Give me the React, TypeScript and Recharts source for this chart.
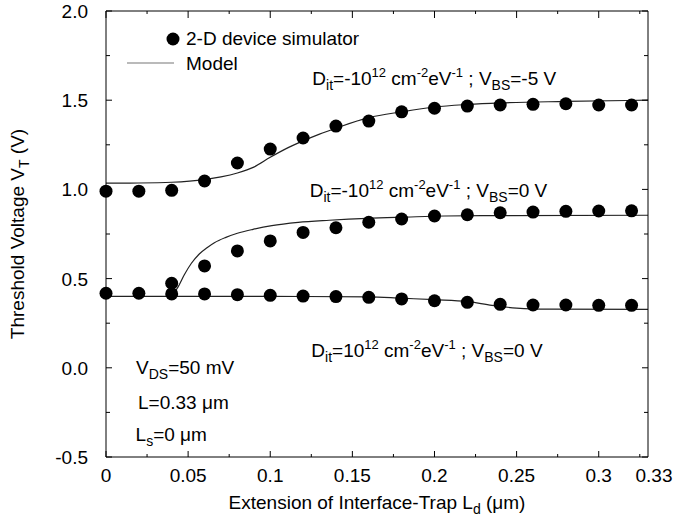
import React from 'react';
import { ComposedChart, XAxis, YAxis, Line, Scatter, ReferenceDot, Legend } from 'recharts';

// ---- data ----
const simX = [0, 0.02, 0.04, 0.06, 0.08, 0.1, 0.12, 0.14, 0.16, 0.18, 0.2, 0.22, 0.24, 0.26, 0.28, 0.3, 0.32];
const simNegVbs5 = [0.99, 0.99, 0.995, 1.047, 1.148, 1.226, 1.288, 1.355, 1.383, 1.435, 1.455, 1.467, 1.473, 1.477, 1.48, 1.473, 1.473];
const simNegX = [0.04, 0.06, 0.08, 0.1, 0.12, 0.14, 0.16, 0.18, 0.2, 0.22, 0.24, 0.26, 0.28, 0.3, 0.32];
const simNegVbs0 = [0.474, 0.571, 0.655, 0.711, 0.759, 0.785, 0.816, 0.834, 0.851, 0.858, 0.869, 0.873, 0.877, 0.879, 0.88];
const simPosVbs0 = [0.418, 0.418, 0.414, 0.414, 0.41, 0.406, 0.402, 0.399, 0.395, 0.386, 0.376, 0.367, 0.356, 0.352, 0.352, 0.35, 0.35];

const modelNeg5X = [0, 0.02, 0.04, 0.06, 0.07, 0.08, 0.09, 0.1, 0.11, 0.12, 0.13, 0.14, 0.16, 0.18, 0.2, 0.22, 0.24, 0.28, 0.33];
const modelNeg5Y = [1.035, 1.036, 1.04, 1.055, 1.07, 1.092, 1.125, 1.18, 1.23, 1.272, 1.31, 1.343, 1.402, 1.435, 1.462, 1.476, 1.485, 1.493, 1.5];
const modelNeg0X = [0.04, 0.044, 0.0476, 0.052, 0.0568, 0.0615, 0.066, 0.073, 0.08, 0.0895, 0.101, 0.117, 0.136, 0.159, 0.183, 0.206, 0.229, 0.33];
const modelNeg0Y = [0.4, 0.455, 0.52, 0.586, 0.638, 0.673, 0.701, 0.731, 0.754, 0.776, 0.797, 0.815, 0.827, 0.838, 0.845, 0.851, 0.853, 0.855];
const modelPos0X = [0, 0.05, 0.1, 0.16, 0.18, 0.2, 0.22, 0.235, 0.25, 0.27, 0.33];
const modelPos0Y = [0.4, 0.4, 0.4, 0.398, 0.39, 0.382, 0.372, 0.35, 0.335, 0.329, 0.327];

const X_TICKS = [0, 0.025, 0.05, 0.075, 0.1, 0.125, 0.15, 0.175, 0.2, 0.225, 0.25, 0.275, 0.3, 0.325, 0.33];
const X_LABELS = [0, 0.05, 0.1, 0.15, 0.2, 0.25, 0.3, 0.33];
const X_LABEL_TEXT = ['0', '0.05', '0.1', '0.15', '0.2', '0.25', '0.3', '0.33'];
const Y_TICKS = [-0.5, -0.25, 0, 0.25, 0.5, 0.75, 1, 1.25, 1.5, 1.75, 2];
const Y_LABELS = [-0.5, 0, 0.5, 1, 1.5, 2];
const Y_LABEL_TEXT = ['-0.5', '0.0', '0.5', '1.0', '1.5', '2.0'];

const toPts = (xs: number[], ys: number[]) => xs.map((x, i) => ({ x, y: ys[i] }));

const FONT = '"Liberation Sans", Arial, Helvetica, sans-serif';
const FS = 19;
const near = (a: number, b: number) => Math.abs(a - b) < 1e-9;

const XBottomTick = (props: any) => {
  const { x, y, payload } = props;
  const v = payload.value;
  const li = X_LABELS.findIndex((l) => near(l, v));
  const isEdge = near(v, 0.33);
  const major = Math.abs(v / 0.05 - Math.round(v / 0.05)) < 1e-6;
  return (
    <g>
      {!isEdge && <line x1={x} x2={x} y1={y} y2={y - (major ? 6 : 3)} stroke="#000" />}
      {li >= 0 && (
        <text x={x} y={y + 25} dx={isEdge ? 6 : 0} textAnchor="middle" fontFamily={FONT} fontSize={FS} fill="#000">
          {X_LABEL_TEXT[li]}
        </text>
      )}
    </g>
  );
};

const XTopTick = (props: any) => {
  const { x, y, payload } = props;
  const v = payload.value;
  if (near(v, 0.33)) return <g />;
  const major = Math.abs(v / 0.05 - Math.round(v / 0.05)) < 1e-6;
  return <line x1={x} x2={x} y1={y} y2={y + (major ? 7 : 3)} stroke="#000" />;
};

const YLeftTick = (props: any) => {
  const { x, y, payload } = props;
  const v = payload.value;
  const li = Y_LABELS.findIndex((l) => near(l, v));
  return (
    <g>
      <line x1={x} x2={x + (li >= 0 ? 6 : 4)} y1={y} y2={y} stroke="#000" />
      {li >= 0 && (
        <text x={x - 18} y={y} dy={7} textAnchor="end" fontFamily={FONT} fontSize={FS} fill="#000">
          {Y_LABEL_TEXT[li]}
        </text>
      )}
    </g>
  );
};

const YRightTick = (props: any) => {
  const { x, y, payload } = props;
  const v = payload.value;
  const major = Y_LABELS.some((l) => near(l, v));
  return <line x1={x} x2={x - (major ? 6 : 4)} y1={y} y2={y} stroke="#000" />;
};

const YTitle = () => (
  <text transform="translate(24,234) rotate(-90)" textAnchor="middle" fontFamily={FONT} fontSize={FS} fill="#000">
    Threshold Voltage V<tspan dy={5} fontSize={14}>T</tspan>
    <tspan dy={-5}> (V)</tspan>
  </text>
);

const XTitle = () => (
  <text x={377} y={509} textAnchor="middle" fontFamily={FONT} fontSize={FS} fill="#000">
    Extension of Interface-Trap L<tspan dy={5} fontSize={14}>d</tspan>
    <tspan dy={-5}> (μm)</tspan>
  </text>
);

const ditLabel = (sign: string, vbs: string) => (props: any) => {
  const vb = props.viewBox || {};
  return (
    <text x={vb.x} y={vb.y} fontFamily={FONT} fontSize={FS} fill="#000">
      D<tspan dy={5} fontSize={14}>it</tspan>
      <tspan dy={-5}>={sign}10</tspan>
      <tspan dy={-8} fontSize={13}>12</tspan>
      <tspan dy={8}> cm</tspan>
      <tspan dy={-8} fontSize={13}>-2</tspan>
      <tspan dy={8}>eV</tspan>
      <tspan dy={-8} fontSize={13}>-1</tspan>
      <tspan dy={8}> ; V</tspan>
      <tspan dy={5} fontSize={14}>BS</tspan>
      <tspan dy={-5}>={vbs} V</tspan>
    </text>
  );
};

const subLabel = (main: string, sub: string, rest: string) => (props: any) => {
  const vb = props.viewBox || {};
  return (
    <text x={vb.x} y={vb.y} fontFamily={FONT} fontSize={FS} fill="#000">
      {main}
      {sub && <tspan dy={5} fontSize={14}>{sub}</tspan>}
      <tspan dy={sub ? -5 : 0}>{rest}</tspan>
    </text>
  );
};

const Dot = (p: any) => <circle cx={p.cx} cy={p.cy} r={6.5} fill="#000" />;

const renderLegend = () => (
  <svg width={260} height={60} style={{ display: 'block' }}>
    <circle cx={53} cy={17} r={6.5} fill="#000" />
    <text x={66} y={23} fontFamily={FONT} fontSize={FS} fill="#000">2-D device simulator</text>
    <line x1={7} x2={54} y1={41} y2={41} stroke="#777" strokeWidth={1.2} />
    <text x={66} y={48} fontFamily={FONT} fontSize={FS} fill="#000">Model</text>
  </svg>
);

const annotations = [
  { x: 0.1256, y: 1.585, content: ditLabel('-', '-5') },
  { x: 0.124, y: 0.957, content: ditLabel('-', '0') },
  { x: 0.125, y: 0.061, content: ditLabel('', '0') },
  { x: 0.0183, y: -0.035, content: subLabel('V', 'DS', '=50 mV') },
  { x: 0.0195, y: -0.231, content: subLabel('L=0.33 μm', '', '') },
  { x: 0.018, y: -0.41, content: subLabel('L', 's', '=0 μm') },
];

export default function App() {
  return (
    <div style={{ position: 'absolute', left: 0, top: 0, background: '#fff' }}>
      <ComposedChart width={699} height={516} margin={{ top: 10, right: 50, bottom: 0, left: 0 }}>
        <XAxis
          dataKey="x"
          type="number"
          domain={[0, 0.33]}
          ticks={X_TICKS}
          interval={0}
          tickSize={0}
          tickMargin={0}
          tickLine={false}
          tick={<XBottomTick />}
          axisLine={{ stroke: '#000' }}
          height={59}
          label={<XTitle />}
        />
        <XAxis
          xAxisId="top"
          orientation="top"
          dataKey="x"
          type="number"
          domain={[0, 0.33]}
          ticks={X_TICKS}
          interval={0}
          tickSize={0}
          tickMargin={0}
          tickLine={false}
          tick={<XTopTick />}
          axisLine={{ stroke: '#000' }}
          height={1}
        />
        <YAxis
          type="number"
          domain={[-0.5, 2]}
          ticks={Y_TICKS}
          interval={0}
          tickSize={0}
          tickMargin={0}
          tickLine={false}
          tick={<YLeftTick />}
          axisLine={{ stroke: '#000' }}
          width={106}
          label={<YTitle />}
        />
        <YAxis
          yAxisId="right"
          orientation="right"
          type="number"
          domain={[-0.5, 2]}
          ticks={Y_TICKS}
          interval={0}
          tickSize={0}
          tickMargin={0}
          tickLine={false}
          tick={<YRightTick />}
          axisLine={{ stroke: '#000' }}
          width={1}
        />
        <Legend
          layout="vertical"
          align="center"
          verticalAlign="middle"
          content={renderLegend}
          wrapperStyle={{ position: 'absolute', left: 120, top: 22, width: 260, height: 60 }}
        />
        {/* invisible series that binds the top and right frame axes */}
        <Line
          xAxisId="top"
          yAxisId="right"
          data={toPts(modelNeg5X, modelNeg5Y)}
          dataKey="y"
          stroke="none"
          strokeOpacity={0}
          dot={false}
          activeDot={false}
          isAnimationActive={false}
          legendType="none"
        />
        <Line data={toPts(modelNeg5X, modelNeg5Y)} dataKey="y" type="monotone" dot={false} stroke="#222" strokeWidth={1.2} isAnimationActive={false} name="Model" legendType="line" />
        <Line data={toPts(modelNeg0X, modelNeg0Y)} dataKey="y" type="monotone" dot={false} stroke="#222" strokeWidth={1.2} isAnimationActive={false} legendType="none" />
        <Line data={toPts(modelPos0X, modelPos0Y)} dataKey="y" type="monotone" dot={false} stroke="#222" strokeWidth={1.2} isAnimationActive={false} legendType="none" />
        <Scatter data={toPts(simX, simNegVbs5)} dataKey="y" fill="#000" shape={Dot} isAnimationActive={false} name="2-D device simulator" />
        <Scatter data={toPts(simNegX, simNegVbs0)} dataKey="y" fill="#000" shape={Dot} isAnimationActive={false} legendType="none" />
        <Scatter data={toPts(simX, simPosVbs0)} dataKey="y" fill="#000" shape={Dot} isAnimationActive={false} legendType="none" />
        {annotations.map((a, i) => (
          <ReferenceDot key={i} x={a.x} y={a.y} r={0} fill="none" stroke="none" label={a.content} />
        ))}
      </ComposedChart>
    </div>
  );
}
